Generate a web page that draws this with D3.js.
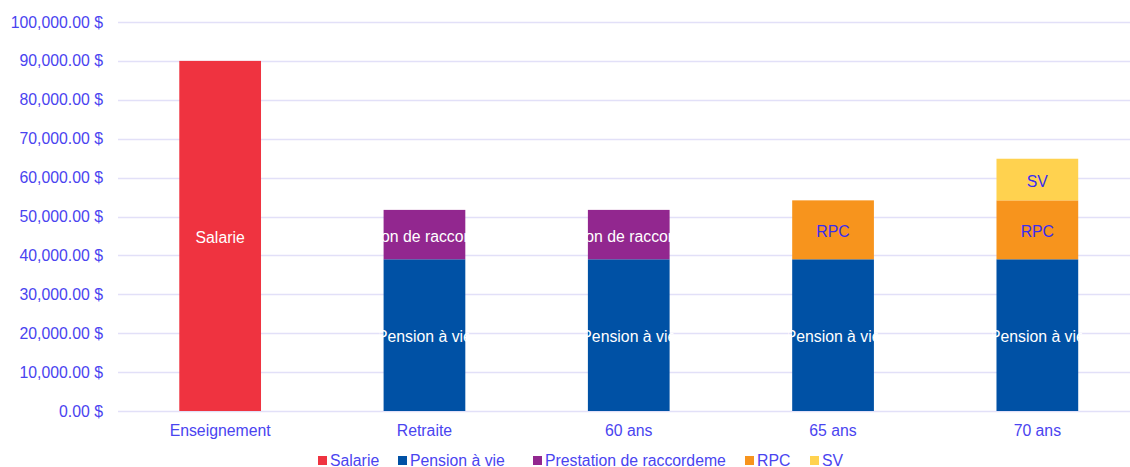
<!DOCTYPE html>
<html>
<head>
<meta charset="utf-8">
<script src="https://cdn.jsdelivr.net/npm/d3@7"></script>
<style>
  body { margin: 0; background: #fff; }
  svg text { font-family: "Liberation Sans", Arial, sans-serif; }
</style>
</head>
<body>
<svg id="chart" width="1130" height="467"></svg>
<script>
const categories = ['Enseignement', 'Retraite', '60 ans', '65 ans', '70 ans']
const seriesNames = ['Salarie', 'Pension à vie', 'Prestation de raccordement', 'RPC', 'SV']
const legendLabels = ['Salarie', 'Pension à vie', 'Prestation de raccordeme', 'RPC', 'SV']
const seriesColors = ['#EF3340', '#0051A5', '#92278F', '#F7941D', '#FFD24F']
const labelColors = ['#ffffff', '#ffffff', '#ffffff', '#3a2df0', '#3a2df0']

const salarie = [90000, 0, 0, 0, 0]
const pension = [0, 39000, 39000, 39000, 39000]
const raccordement = [0, 12700, 12700, 0, 0]
const rpc = [0, 0, 0, 15150, 15150]
const sv = [0, 0, 0, 0, 10700]

const yTicks = [0, 10000, 20000, 30000, 40000, 50000, 60000, 70000, 80000, 90000, 100000]

const tickColor = '#4a44f0'
const gridColor = '#e2e0f8'
const fontSize = '15.8px'

const svg = d3.select('#chart')
const margin = { top: 22, left: 118, bottom: 56 }
const plotRight = 1139.5
const plotBottom = 467 - margin.bottom

const table = categories.map((c, i) => ({
  cat: c,
  'Salarie': salarie[i],
  'Pension à vie': pension[i],
  'Prestation de raccordement': raccordement[i],
  'RPC': rpc[i],
  'SV': sv[i]
}))

const stacked = d3.stack().keys(seriesNames)(table)

const x = d3.scaleBand()
  .domain(categories)
  .range([margin.left, plotRight])
  .paddingInner(0.6)
  .paddingOuter(0.3)

const y = d3.scaleLinear()
  .domain([0, 100000])
  .range([plotBottom, margin.top])

// gridlines
svg.append('g')
  .selectAll('line')
  .data(yTicks)
  .join('line')
  .attr('x1', margin.left)
  .attr('x2', plotRight)
  .attr('y1', d => Math.round(y(d)) + 0.5)
  .attr('y2', d => Math.round(y(d)) + 0.5)
  .style('stroke', gridColor)
  .style('stroke-width', 1.5)

// y axis labels
const fmt = d3.format(',.2f')
svg.append('g')
  .selectAll('text')
  .data(yTicks)
  .join('text')
  .attr('x', 103)
  .attr('y', d => y(d))
  .attr('dy', '0.35em')
  .attr('text-anchor', 'end')
  .style('font-size', fontSize)
  .style('fill', tickColor)
  .text(d => fmt(d) + ' $')

// x axis labels
svg.append('g')
  .selectAll('text')
  .data(categories)
  .join('text')
  .attr('x', d => x(d) + x.bandwidth() / 2)
  .attr('y', plotBottom + 25)
  .attr('text-anchor', 'middle')
  .style('font-size', fontSize)
  .style('fill', tickColor)
  .text(d => d)

const defs = svg.append('defs')

// bars
stacked.forEach((layer, si) => {
  const g = svg.append('g')
  layer.forEach((d, ci) => {
    const val = d[1] - d[0]
    if (val <= 0) return
    const bx = x(categories[ci])
    const by = y(d[1])
    const bh = y(d[0]) - y(d[1])
    g.append('rect')
      .attr('x', bx)
      .attr('y', by)
      .attr('width', x.bandwidth())
      .attr('height', bh)
      .style('fill', seriesColors[si])

    const clipId = 'clip-' + si + '-' + ci
    defs.append('clipPath')
      .attr('id', clipId)
      .append('rect')
      .attr('x', bx - 4)
      .attr('y', by)
      .attr('width', x.bandwidth() + 8)
      .attr('height', bh)

    g.append('text')
      .attr('x', bx + x.bandwidth() / 2)
      .attr('y', by + bh / 2)
      .attr('dy', '0.45em')
      .attr('text-anchor', 'middle')
      .attr('clip-path', 'url(#' + clipId + ')')
      .style('font-size', fontSize)
      .style('fill', labelColors[si])
      .text(seriesNames[si])
  })
})

// legend
const legendX = [318, 398, 533, 745, 810]
const legend = svg.append('g')
legendLabels.forEach((name, i) => {
  legend.append('rect')
    .attr('x', legendX[i])
    .attr('y', 456)
    .attr('width', 9)
    .attr('height', 9)
    .style('fill', seriesColors[i])
  legend.append('text')
    .attr('x', legendX[i] + 12)
    .attr('y', 460.5)
    .attr('dy', '0.35em')
    .style('font-size', fontSize)
    .style('fill', tickColor)
    .text(name)
})
</script>
</body>
</html>
